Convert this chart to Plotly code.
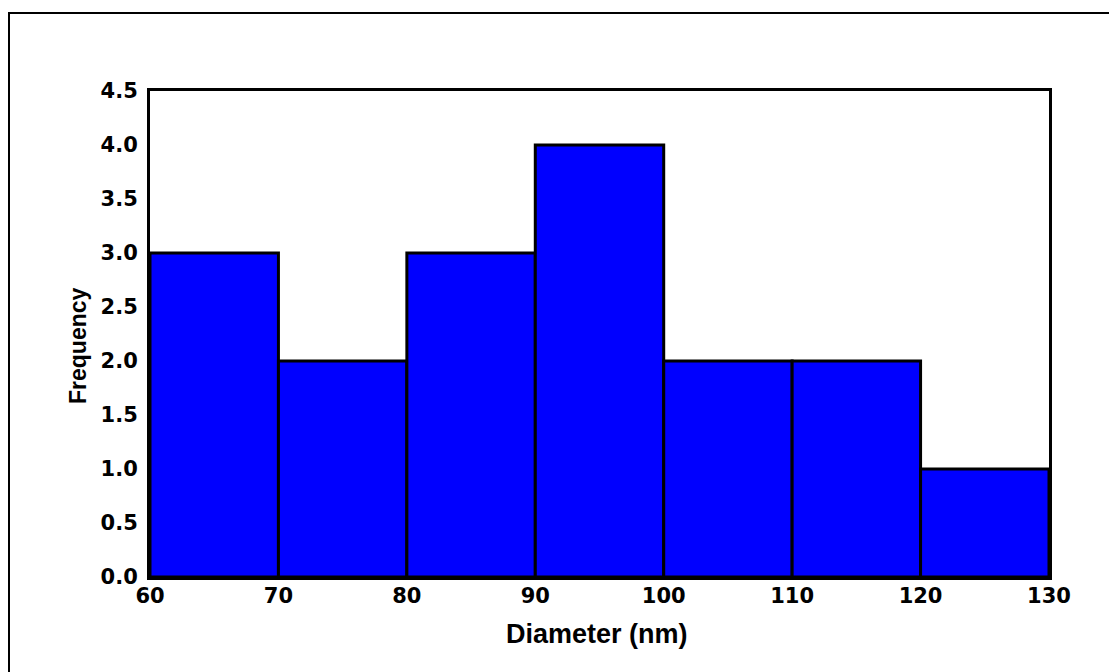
import plotly.graph_objects as go

bin_left = [60, 70, 80, 90, 100, 110, 120]
bin_width = 10
counts = [3, 2, 3, 4, 2, 2, 1]
x_ticks = [60, 70, 80, 90, 100, 110, 120, 130]
y_ticks = [0.0, 0.5, 1.0, 1.5, 2.0, 2.5, 3.0, 3.5, 4.0, 4.5]

centers = [b + bin_width / 2 for b in bin_left]

W, H = 1109, 672
ml, mr, mt, mb = 150, 60, 91, 95
pw, ph = W - ml - mr, H - mt - mb
tick_family = "DejaVu Sans, Verdana, sans-serif"
title_family = "Liberation Sans, Arial, sans-serif"

fig = go.Figure(go.Bar(
    x=centers, y=counts, width=[bin_width] * len(counts),
    marker=dict(color="#0000FF", line=dict(color="black", width=3)),
))

tickfont = dict(family=tick_family, size=21, color="black", weight="bold")

fig.update_layout(
    width=W, height=H,
    margin=dict(l=ml, r=mr, t=mt, b=mb),
    plot_bgcolor="white", paper_bgcolor="white",
    showlegend=False,
    font=dict(family=title_family, size=20, color="black"),
    xaxis=dict(range=[60, 130], tickvals=x_ticks, ticktext=[str(v) for v in x_ticks],
               showgrid=False, zeroline=False, showline=True, mirror=True,
               linecolor="black", linewidth=3, ticks="", ticklabelstandoff=-2,
               tickfont=tickfont),
    yaxis=dict(range=[0, 4.5], tickvals=y_ticks, ticktext=[f"{v:.1f}" for v in y_ticks],
               showgrid=False, zeroline=False, showline=True, mirror=True,
               linecolor="black", linewidth=3, ticks="", ticklabelstandoff=5,
               tickfont=tickfont),
    annotations=[
        dict(text="<b>Diameter (nm)</b>", xref="paper", yref="paper", x=(597 - ml) / pw,
             y=-(634 - (H - mb)) / ph,
             xanchor="center", yanchor="middle", showarrow=False,
             font=dict(family=title_family, size=27, color="black")),
        dict(text="<b>Frequency</b>", xref="paper", yref="paper", x=-(ml - 78) / pw,
             y=((H - mb) - 346) / ph, textangle=-90,
             xanchor="center", yanchor="middle", showarrow=False,
             font=dict(family=title_family, size=23, color="black")),
    ],
    shapes=[
        dict(type="rect", xref="paper", yref="paper",
             x0=-(ml - 9) / pw, x1=(W + 20 - ml) / pw,
             y0=-(mb + 20) / ph,
             y1=((H - mb) - 13) / ph,
             line=dict(color="black", width=2), layer="above"),
    ],
)

fig.write_html("out.html")
